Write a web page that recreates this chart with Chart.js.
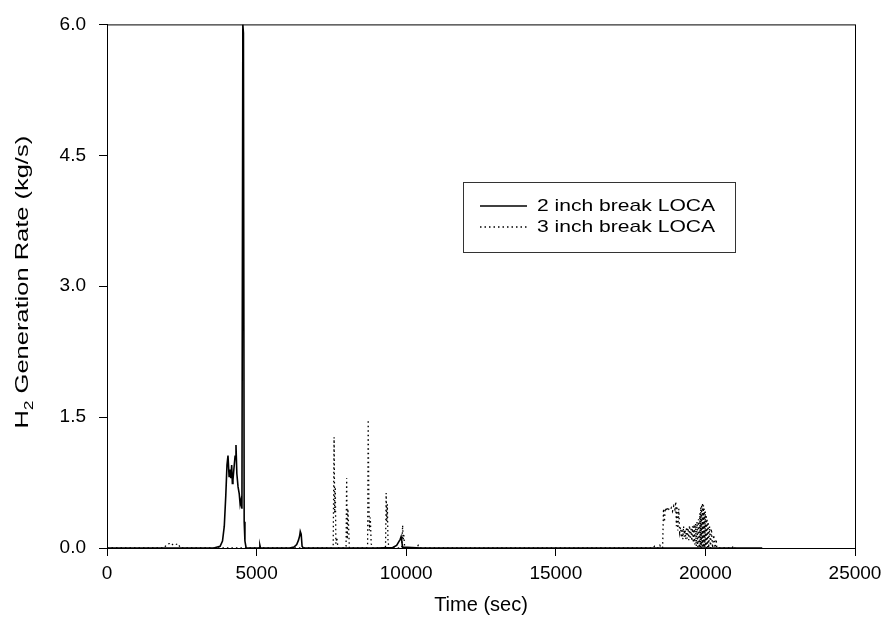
<!DOCTYPE html>
<html lang="en">
<head>
    <meta charset="UTF-8">
    <title>H2 Generation Rate</title>
    <script src="https://cdn.jsdelivr.net/npm/chart.js"></script>
    <style>
        body {
            margin: 0;
            background-color: #ffffff;
        }
        #wrap {
            width: 888px;
            height: 630px;
        }
    </style>
</head>
<body>
    <div id="wrap">
        <canvas id="h2-chart" width="888" height="630"></canvas>
    </div>

    <script>
        // Axis ticks
        const xTicks = [0, 5000, 10000, 15000, 20000, 25000];
        const yTicks = [0.0, 1.5, 3.0, 4.5, 6.0];

        // 2 inch break LOCA (time in sec, rate in kg/s)
        const time2 = [0, 1000, 2000, 3000, 3600, 3780, 3860, 3920, 3970, 4010, 4044,
            4080, 4110, 4140, 4167, 4190, 4210, 4240, 4280, 4311, 4340, 4380, 4420,
            4450, 4480, 4510, 4540, 4560, 4585, 4610, 4650, 5000, 5090, 5110, 5130,
            5500, 6100, 6250, 6340, 6400, 6440, 6460, 6490, 6520, 6560, 7000, 9000,
            9550, 9680, 9750, 9800, 9830, 9850, 9880, 10500, 15000, 20000, 21900];
        const rate2 = [0, 0, 0, 0, 0.003, 0.02, 0.08, 0.25, 0.6, 0.95, 1.06,
            0.82, 0.9, 0.8, 0.95, 0.74, 0.78, 0.9, 1.05, 1.18, 0.85, 0.7, 0.62,
            0.5, 0.55, 0.45, 6.0, 5.9, 0.3, 0.08, 0, 0, 0, 0.03, 0,
            0, 0, 0.01, 0.04, 0.09, 0.14, 0.19, 0.16, 0.02, 0, 0, 0,
            0.005, 0.03, 0.07, 0.1, 0.13, 0.08, 0.01, 0, 0, 0, 0];

        // 3 inch break LOCA (time in sec, rate in kg/s)
        const time3 = [0, 1900, 2000, 2080, 2150, 2220, 2300, 2380, 2450,
            7500, 7560, 7590, 7610, 7630, 7650, 7680, 7720,
            7960, 7990, 8010, 8030, 8050, 8070, 8100,
            8680, 8710, 8730, 8750, 8770, 8800, 8830, 8870,
            9280, 9310, 9330, 9350, 9370, 9390, 9420,
            9840, 9860, 9880, 9900, 9920, 9950,
            10350, 10400, 10450,
            18250, 18300, 18350, 18450, 18480, 18520, 18570,
            18600, 18630, 18660, 18700, 18740, 18780, 18820, 18860, 18900, 18940,
            18980, 19010, 19030, 19050, 19080, 19110, 19140,
            19170, 19195, 19220, 19245, 19270, 19295, 19320, 19345, 19370, 19395,
            19420, 19445, 19470, 19495, 19520, 19545, 19570, 19595, 19620, 19645,
            19670, 19695, 19720, 19745, 19770, 19795,
            19815, 19830, 19845, 19860, 19875, 19890, 19905, 19920, 19935, 19950,
            19965, 19980, 19995, 20010, 20025, 20040, 20055, 20070, 20090, 20110,
            20140, 20170, 20200, 20240, 20280, 20320, 20360, 20380,
            20900, 20920, 20950, 21000];
        const rate3 = [0, 0, 0.04, 0.05, 0.03, 0.05, 0.04, 0.05, 0,
            0, 0.02, 1.27, 0.4, 0.7, 0.05, 0.12, 0,
            0, 0.02, 0.8, 0.1, 0.45, 0.3, 0,
            0, 0.03, 1.47, 0.6, 0.2, 0.35, 0.05, 0,
            0, 0.02, 0.63, 0.3, 0.5, 0.1, 0,
            0, 0.02, 0.26, 0.1, 0.15, 0,
            0, 0.03, 0,
            0, 0.02, 0, 0, 0.03, 0, 0,
            0.45, 0.3, 0.46, 0.42, 0.47, 0.44, 0.43, 0.46, 0.42, 0.48,
            0.44, 0.53, 0.25, 0.48, 0.2, 0.45, 0.18,
            0.24, 0.12, 0.22, 0.1, 0.25, 0.13, 0.21, 0.1, 0.24, 0.11,
            0.23, 0.09, 0.26, 0.1, 0.22, 0.08, 0.25, 0.06, 0.27, 0.04,
            0.28, 0.02, 0.3, 0.01, 0.33, 0,
            0.4, 0.01, 0.47, 0, 0.5, 0.02, 0.52, 0, 0.49, 0.01,
            0.45, 0, 0.42, 0.02, 0.38, 0, 0.34, 0.01, 0.3, 0,
            0.25, 0, 0.22, 0, 0.15, 0, 0.1, 0,
            0, 0.02, 0, 0];

        const FONT = "'Liberation Sans', Arial, Helvetica, sans-serif";

        const toPoints = (xs, ys) => xs.map((x, i) => ({ x: x, y: ys[i] }));

        // frame around the plot area, legend box, and the rotated y title with subscript
        const framePlugin = {
            id: 'frame',
            afterDraw(chart) {
                const ctx = chart.ctx;
                const a = chart.chartArea;
                ctx.save();
                ctx.strokeStyle = '#000';
                ctx.lineWidth = 1;
                ctx.strokeRect(a.left + 0.5, a.top + 0.5, a.right - a.left, a.bottom - a.top);

                // legend
                const bx = 463.5, by = 182.5, bw = 272, bh = 70;
                ctx.strokeStyle = '#333';
                ctx.strokeRect(bx, by, bw, bh);
                ctx.font = '17px ' + FONT;
                ctx.fillStyle = '#000';
                ctx.textBaseline = 'middle';
                chart.data.datasets.forEach((ds, i) => {
                    const ly = 206 + i * 21;
                    ctx.beginPath();
                    ctx.strokeStyle = ds.borderColor;
                    ctx.lineWidth = ds.borderWidth;
                    ctx.setLineDash(ds.borderDash || []);
                    ctx.moveTo(480, ly);
                    ctx.lineTo(527, ly);
                    ctx.stroke();
                    ctx.setLineDash([]);
                    ctx.save();
                    ctx.translate(537, ly);
                    ctx.scale(1.24, 1);
                    ctx.fillText(ds.label, 0, 0);
                    ctx.restore();
                });

                // y axis title: H2 Generation Rate (kg/s)
                const cy = (a.top + a.bottom) / 2 - 4;
                ctx.save();
                ctx.translate(28, cy);
                ctx.rotate(-Math.PI / 2);
                ctx.scale(1.34, 1);
                ctx.textBaseline = 'alphabetic';
                const big = '19px ' + FONT, small = '13px ' + FONT;
                const rest = ' Generation Rate (kg/s)';
                ctx.font = big;
                const wH = ctx.measureText('H').width;
                const wR = ctx.measureText(rest).width;
                ctx.font = small;
                const w2 = ctx.measureText('2').width;
                let x0 = -(wH + w2 + wR) / 2;
                ctx.font = big;
                ctx.fillText('H', x0, 0);
                ctx.font = small;
                ctx.fillText('2', x0 + wH, 5);
                ctx.font = big;
                ctx.fillText(rest, x0 + wH + w2, 0);
                ctx.restore();

                ctx.restore();
            }
        };

        const ctx = document.getElementById('h2-chart').getContext('2d');
        const chart = new Chart(ctx, {
            type: 'line',
            data: {
                datasets: [
                    {
                        label: '2 inch break LOCA',
                        data: toPoints(time2, rate2),
                        borderColor: '#000',
                        borderWidth: 1.6,
                        pointRadius: 0,
                        tension: 0,
                        fill: false
                    },
                    {
                        label: '3 inch break LOCA',
                        data: toPoints(time3, rate3),
                        borderColor: '#000',
                        borderWidth: 1.3,
                        borderDash: [1.5, 3],
                        pointRadius: 0,
                        tension: 0,
                        fill: false
                    }
                ]
            },
            options: {
                responsive: false,
                animation: false,
                layout: {
                    padding: { left: 0, top: 24, right: 33, bottom: 0 }
                },
                plugins: {
                    legend: { display: false },
                    tooltip: { enabled: false }
                },
                scales: {
                    x: {
                        type: 'linear',
                        min: 0,
                        max: 25000,
                        afterBuildTicks: s => { s.ticks = xTicks.map(v => ({ value: v })); },
                        afterFit: s => { s.height = 82; },
                        grid: { drawOnChartArea: false, tickLength: 8, color: '#000' },
                        border: { color: '#000' },
                        ticks: {
                            color: '#000',
                            padding: 6,
                            maxRotation: 0,
                            font: { family: FONT, size: 19 },
                            callback: v => String(v)
                        },
                        title: {
                            display: true,
                            text: 'Time (sec)',
                            color: '#000',
                            font: { family: FONT, size: 20 },
                            padding: { top: 8, bottom: 13 }
                        }
                    },
                    y: {
                        min: 0,
                        max: 6,
                        afterBuildTicks: s => { s.ticks = yTicks.map(v => ({ value: v })); },
                        afterFit: s => { s.width = 107; },
                        grid: { drawOnChartArea: false, tickLength: 8, color: '#000' },
                        border: { color: '#000' },
                        ticks: {
                            color: '#000',
                            padding: 13,
                            font: { family: FONT, size: 19 },
                            callback: v => v.toFixed(1)
                        }
                    }
                }
            },
            plugins: [framePlugin]
        });
    </script>
</body>
</html>
